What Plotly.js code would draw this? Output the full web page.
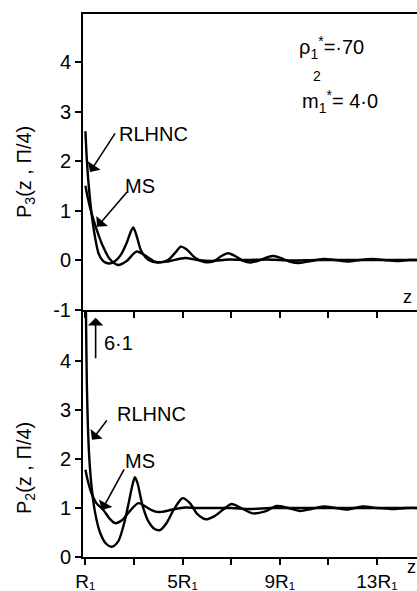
<!DOCTYPE html>
<html><head><meta charset="utf-8">
<script src="https://cdn.plot.ly/plotly-3.0.1.min.js"></script>
<style>html,body{margin:0;padding:0;background:#fff}</style>
</head><body>
<div id="chart" style="width:417px;height:591px"></div>
<script>
// ---- data (z in units of R1) ----
const p3RlhncZ = [1, 1.05, 1.12, 1.25, 1.4, 1.55, 1.75, 2.0, 2.2, 2.45, 2.7, 2.85, 2.97, 3.1, 3.3, 3.6, 4.0, 4.4, 4.7, 4.93, 5.2, 5.5, 5.9, 6.3, 6.6, 6.88, 7.2, 7.5, 7.8, 8.2, 8.5, 8.75, 9.0, 9.4, 9.8, 10.3, 10.8, 11.3, 11.8, 12.3, 12.8, 13.3, 13.8, 14.3, 14.8];
const p3RlhncV = [2.6, 2.1, 1.6, 0.95, 0.45, 0.12, -0.03, -0.07, -0.03, 0.1, 0.35, 0.55, 0.66, 0.5, 0.18, 0.0, -0.05, 0.0, 0.15, 0.27, 0.2, 0.05, -0.04, -0.02, 0.08, 0.135, 0.07, -0.02, -0.05, 0.0, 0.06, 0.08, 0.05, -0.03, -0.06, -0.02, 0.02, 0.0, -0.03, 0.0, 0.02, 0.0, -0.02, 0.0, 0.0];
const p3MsZ = [1, 1.1, 1.25, 1.46, 1.7, 2.0, 2.34, 2.7, 3.1, 3.5, 3.9, 4.4, 5.1, 5.6, 6.2, 6.9, 7.6, 8.5, 9.5, 10.5, 11.5, 12.5, 13.5, 14.8];
const p3MsV = [1.5, 1.25, 0.95, 0.62, 0.3, 0.02, -0.1, -0.02, 0.17, 0.08, -0.04, -0.03, 0.04, 0.0, -0.02, 0.01, 0.0, 0.01, -0.01, 0.0, 0.0, 0.0, 0.0, 0.0];
const p2RlhncZ = [1, 1.03, 1.06, 1.1, 1.15, 1.25, 1.4, 1.6, 1.85, 2.08, 2.35, 2.6, 2.8, 2.95, 3.04, 3.15, 3.35, 3.6, 3.85, 4.07, 4.35, 4.65, 5.0, 5.3, 5.6, 5.95, 6.3, 6.7, 7.02, 7.4, 7.9, 8.4, 8.87, 9.35, 9.83, 10.3, 10.8, 11.3, 11.8, 12.4, 13.0, 13.6, 14.2, 14.8];
const p2RlhncV = [6.1, 4.6, 3.5, 2.7, 2.1, 1.45, 0.9, 0.5, 0.27, 0.21, 0.32, 0.7, 1.15, 1.5, 1.63, 1.5, 1.05, 0.72, 0.57, 0.55, 0.7, 0.98, 1.2, 1.1, 0.88, 0.77, 0.83, 0.98, 1.08, 1.0, 0.89, 0.93, 1.04, 1.0, 0.94, 0.98, 1.03, 1.0, 0.97, 1.03, 1.0, 0.98, 1.0, 1.0];
const p2MsZ = [1, 1.1, 1.25, 1.45, 1.74, 2.0, 2.22, 2.5, 2.8, 3.18, 3.5, 3.85, 4.14, 4.6, 5.1, 5.6, 6.2, 7.0, 7.8, 8.6, 9.5, 10.5, 11.5, 12.5, 13.5, 14.8];
const p2MsV = [1.78, 1.55, 1.3, 1.1, 0.96, 0.78, 0.69, 0.75, 0.92, 1.1, 1.02, 0.93, 0.92, 0.97, 1.01, 1.0, 1.0, 1.0, 0.98, 1.0, 1.0, 1.0, 1.0, 1.0, 1.0, 1.0];
const xTickVals = [1, 5, 9, 13];
const xTickText = ['R₁', '5R₁', '9R₁', '13R₁'];
const xAllTicks = [1, 3, 5, 7, 9, 11, 13];
const p3TickVals = [-1, 0, 1, 2, 3, 4];
const p3TickText = ['-1', '0', '1', '2', '3', '4'];
const p2TickVals = [0, 1, 2, 3, 4];

const FONT = 'Liberation Sans, Arial, sans-serif';
const line = {color: '#000', width: 2.4, shape: 'spline', smoothing: 0.8};

const traces = [
  {x: p3RlhncZ, y: p3RlhncV, xaxis: 'x2', yaxis: 'y2', mode: 'lines', line: line, name: 'RLHNC P3'},
  {x: p3MsZ, y: p3MsV, xaxis: 'x2', yaxis: 'y2', mode: 'lines', line: line, name: 'MS P3'},
  {x: p2RlhncZ, y: p2RlhncV, xaxis: 'x', yaxis: 'y', mode: 'lines', line: line, name: 'RLHNC P2'},
  {x: p2MsZ, y: p2MsV, xaxis: 'x', yaxis: 'y', mode: 'lines', line: line, name: 'MS P2'}
];

const xr = [0.90, 14.65];
const split = 247 / 543;
const ax = (o) => Object.assign({
  showgrid: false, zeroline: false, showline: true, linecolor: '#000', linewidth: 2,
  tickcolor: '#000', tickwidth: 2, tickfont: {family: FONT, size: 20, color: '#000'}
}, o);
const txt = (x, y, text, size) => ({xref: 'paper', yref: 'paper', x: x, y: y, text: text, showarrow: false,
  xanchor: 'center', yanchor: 'middle', font: {family: FONT, size: size || 20, color: '#000'}});
const arrow = (xref, yref, x, y, axp, ayp) => ({xref: xref, yref: yref, x: x, y: y, ax: axp, ay: ayp, text: '',
  showarrow: true, arrowhead: 1, arrowsize: 1.6, arrowwidth: 1.6, arrowcolor: '#000', standoff: 0, startstandoff: 0});
const px = (p) => (p - 83) / 334;
const py = (p) => (557 - p) / 543;

const layout = {
  width: 417, height: 591,
  margin: {l: 83, r: 0, t: 14, b: 34},
  paper_bgcolor: '#fff', plot_bgcolor: '#fff',
  showlegend: false,
  font: {family: FONT, color: '#000'},
  xaxis: ax({anchor: 'y', domain: [0, 1], range: xr, tickmode: 'array', tickvals: xTickVals, ticktext: xTickText,
    ticks: 'outside', ticklen: 6, ticklabelstandoff: 0,
    minor: {tickmode: 'array', tickvals: xAllTicks, ticks: 'outside', ticklen: 6, tickwidth: 2, tickcolor: '#000'},
    tickfont: {family: FONT, size: 19, color: '#000'}}),
  yaxis: ax({anchor: 'x', domain: [0, split], range: [0, 5.04], tickmode: 'array', tickvals: p2TickVals,
    ticks: 'outside', ticklen: 6}),
  xaxis2: ax({anchor: 'y2', domain: [0, 1], range: xr, tickmode: 'array', tickvals: xAllTicks, showticklabels: false,
    ticks: 'outside', ticklen: 6, mirror: true}),
  yaxis2: ax({anchor: 'x2', domain: [split, 1], range: [-1.01, 4.97], tickmode: 'array', tickvals: p3TickVals, ticktext: p3TickText,
    ticks: 'outside', ticklen: 6}),
  annotations: [
    // axis titles
    Object.assign(txt(px(25), py(172), 'P<sub>3</sub>(z , Π/4)', 20), {textangle: -90}),
    Object.assign(txt(px(25), py(468), 'P<sub>2</sub>(z , Π/4)', 20), {textangle: -90}),
    // parameters
    txt(px(331), py(48), 'ρ<sub>1</sub><sup>*</sup>=·70', 20),
    txt(px(340), py(101), 'm<sub>1</sub><sup>*</sup>= 4·0', 20),
    txt(px(317), py(76), '2', 14),
    // z labels
    txt(px(407), py(297), 'z', 18),
    txt(px(411), py(567), 'z', 18),
    // top panel labels + arrows
    arrow('x2', 'y2', 1.19, 1.78, 26, -40),
    txt(px(153), py(134), 'RLHNC', 20),
    arrow('x2', 'y2', 1.48, 0.67, 31, -36),
    txt(px(140), py(186), 'MS', 20),
    // bottom panel labels + arrows
    arrow('x', 'y', 1.42, 4.88, 0, 42),
    txt(px(118), py(343), '6·1', 20),
    arrow('x', 'y', 1.27, 2.39, 16, -21),
    txt(px(151), py(414), 'RLHNC', 20),
    arrow('x', 'y', 1.68, 0.96, 23, -42),
    txt(px(140), py(461), 'MS', 20)
  ]
};

Plotly.newPlot('chart', traces, layout, {staticPlot: true, displayModeBar: false});
</script>
</body></html>
